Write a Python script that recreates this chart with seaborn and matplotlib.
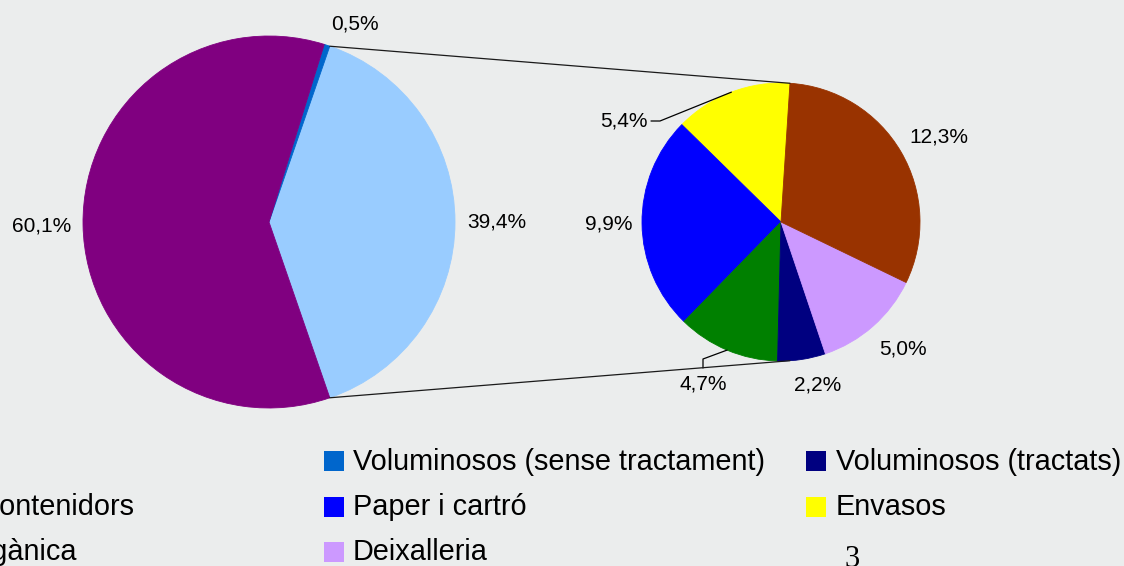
import matplotlib
matplotlib.use("Agg")
import matplotlib.pyplot as plt
import seaborn as sns
import numpy as np
from matplotlib.patches import Rectangle

# ---------------- data ----------------
main_categories = ["Recollida selectiva", "Voluminosos (sense tractament)", "Resta en contenidors"]
main_values = [39.4, 0.5, 60.1]
main_colors = ["#99CCFF", "#0066CC", "#800080"]

sub_categories = ["Envasos", "Paper i cartró", "Vidre", "Voluminosos (tractats)",
                  "Deixalleria", "Matèria orgànica"]
sub_values = [5.4, 9.9, 4.7, 2.2, 5.0, 12.3]
sub_colors = ["#FFFF00", "#0000FF", "#008000", "#000080", "#CC99FF", "#993300"]

legend_col1 = ["Vidre", "Resta en contenidors", "Matèria orgànica"]
legend_col1_colors = ["#008000", "#800080", "#993300"]
legend_col2 = ["Voluminosos (sense tractament)", "Paper i cartró", "Deixalleria"]
legend_col2_colors = ["#0066CC", "#0000FF", "#CC99FF"]
legend_col3 = ["Voluminosos (tractats)", "Envasos"]
legend_col3_colors = ["#000080", "#FFFF00"]

page_number = "3"

# ---------------- style ----------------
W, H = 1124, 566
BG = "#EBEDED"
sns.set_theme(style="white")
plt.rcParams['font.family'] = ['Liberation Sans', 'DejaVu Sans']

fig = plt.figure(figsize=(W / 100, H / 100), dpi=100, facecolor=BG)
ax = fig.add_axes([0, 0, 1, 1])
ax.set_facecolor(BG)


def Y(y):
    return H - y


def fmt(v):
    return f"{v:.1f}".replace(".", ",") + "%"


main_center = (269, Y(222))
main_r = 186
sub_center = (781, Y(222))
sub_r = 139
sub_start = 86.3

main_wedges, _ = ax.pie(main_values, colors=main_colors,
                        startangle=-main_values[0] / 100 * 360 / 2,
                        counterclock=True, center=main_center, radius=main_r,
                        frame=True)
sub_wedges, _ = ax.pie(sub_values, colors=sub_colors, startangle=sub_start,
                       counterclock=True, center=sub_center, radius=sub_r,
                       frame=True)
for wdg in list(main_wedges) + list(sub_wedges):
    wdg.set_edgecolor(wdg.get_facecolor())
    wdg.set_linewidth(0.6)

ax.set_xlim(0, W)
ax.set_ylim(0, H)
ax.set_aspect("auto")
ax.axis("off")

renderer = fig.canvas.get_renderer()
LABEL_FS = 15


def place_label(wedge, center, r, text, gap=11, k=4):
    mid = np.deg2rad((wedge.theta1 + wedge.theta2) / 2)
    c, s = np.cos(mid), np.sin(mid)
    px = center[0] + (r + gap) * c
    py = center[1] + (r + gap) * s
    if s < -0.5:
        py -= 6
    t = ax.text(px, py, text, ha="center", va="center", fontsize=LABEL_FS, color="black")
    bb = t.get_window_extent(renderer)
    w, h = bb.width, bb.height
    t.set_position((px + w / 2 * np.clip(k * c, -1, 1), py + h / 2 * np.clip(k * s, -1, 1)))


for wdg, v in zip(main_wedges, main_values):
    place_label(wdg, main_center, main_r, fmt(v), gap=12)

# labels with leader lines (image pixel coordinates of elbow and end)
leaders = {
    "Envasos": ((660, 121), (651, 121), "right", "center"),
    "Vidre": ((703, 359), (703, 368), "center", "top"),
}
for wdg, v, cat in zip(sub_wedges, sub_values, sub_categories):
    if cat in leaders:
        (ex, ey), (tx, ty), ha, va = leaders[cat]
        mid = np.deg2rad((wdg.theta1 + wdg.theta2) / 2)
        sx = sub_center[0] + sub_r * np.cos(mid)
        sy = sub_center[1] + sub_r * np.sin(mid)
        ax.plot([sx, ex, tx], [sy, Y(ey), Y(ty)], color="black", lw=0.9)
        dx = -3 if ha == "right" else 0
        dy = -7 if va == "top" else 0
        ax.text(tx + dx, Y(ty) + dy, fmt(v), ha=ha, va=va, fontsize=LABEL_FS, color="black")
    else:
        place_label(wdg, sub_center, sub_r, fmt(v), gap=10)

# connector lines between the pies
split = main_wedges[0]
for a_main, a_sub in [(split.theta2, sub_start), (split.theta1, -sub_start)]:
    x0 = main_center[0] + main_r * np.cos(np.deg2rad(a_main))
    y0 = main_center[1] + main_r * np.sin(np.deg2rad(a_main))
    x1 = sub_center[0] + sub_r * np.cos(np.deg2rad(a_sub))
    y1 = sub_center[1] + sub_r * np.sin(np.deg2rad(a_sub))
    ax.plot([x0, x1], [y0, y1], color="#1a1a1a", lw=0.9)

# legend (partially outside the visible slide area)
LEG_FS = 20.8
col_marker_x = [-168, 324, 806]
col_text_x = [-139, 353, 836]
row_baselines = [469.5, 515, 560.5]
for ci, (labels, cols) in enumerate([(legend_col1, legend_col1_colors),
                                     (legend_col2, legend_col2_colors),
                                     (legend_col3, legend_col3_colors)]):
    for ri, (lab, colr) in enumerate(zip(labels, cols)):
        base = row_baselines[ri]
        ax.add_patch(Rectangle((col_marker_x[ci], Y(base + 1.5)), 20, 20,
                               facecolor=colr, edgecolor="none", clip_on=False))
        ax.text(col_text_x[ci], Y(base), lab, ha="left", va="baseline",
                fontsize=LEG_FS, color="black")

ax.text(852, Y(567), page_number, ha="center", va="baseline", fontsize=22,
        family=["Liberation Serif", "DejaVu Serif"], color="black")

fig.savefig("out.png", dpi=100, facecolor=BG)
